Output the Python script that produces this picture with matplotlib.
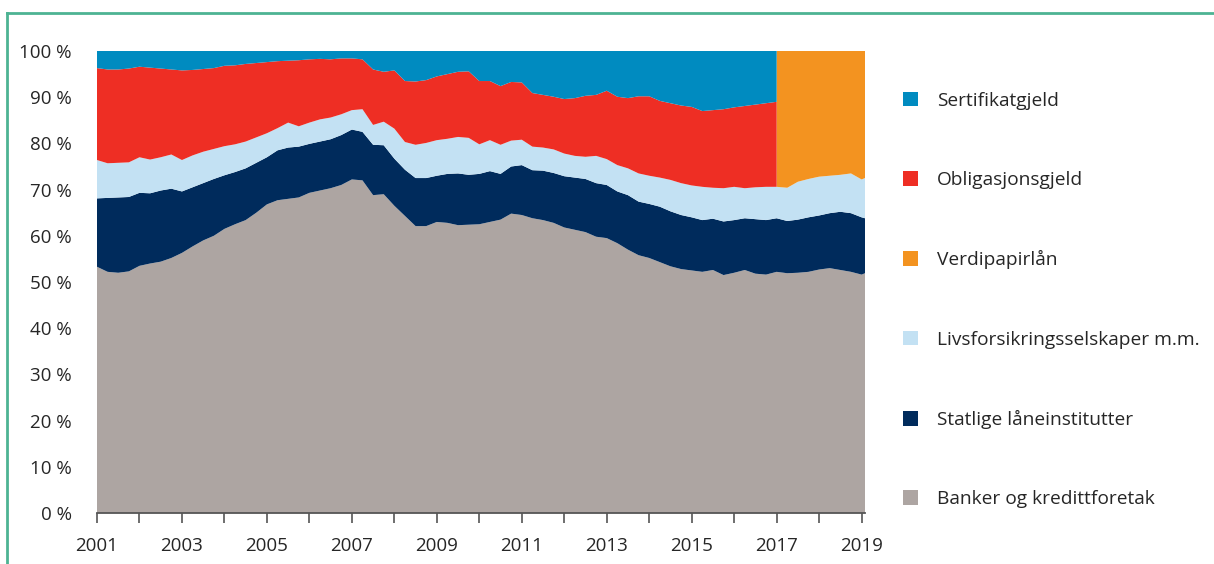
import numpy as np
import matplotlib.pyplot as plt
from matplotlib.patches import Patch
from matplotlib.lines import Line2D

plt.rcParams['font.family'] = ['Open Sans', 'DejaVu Sans']

# quarterly observations; 2017.0 appears twice because the series split there
dates = np.r_[np.arange(2001, 2017.01, 0.25), np.arange(2017, 2019.01, 0.25), 2019.08]

banker = [53.3, 52.2, 52.0, 52.3, 53.5, 54.0, 54.4, 55.2, 56.3, 57.7, 59.0, 60.0,
          61.5, 62.5, 63.4, 65.0, 66.8, 67.7, 68.0, 68.3, 69.3, 69.8, 70.3, 71.0,
          72.2, 72.0, 68.8, 69.0, 66.5, 64.3, 62.1, 62.1, 63.0, 62.8, 62.3, 62.4,
          62.5, 63.0, 63.5, 64.8, 64.5, 63.8, 63.4, 62.8, 61.8, 61.3, 60.8, 59.8,
          59.5, 58.4, 57.0, 55.8, 55.2, 54.3, 53.4, 52.8, 52.5, 52.2, 52.6, 51.5,
          52.0, 52.6, 51.8, 51.6, 52.2,
          52.2, 51.9, 52.0, 52.2, 52.7, 53.0, 52.6, 52.2, 51.6, 51.9]
statlige = [14.8, 16.0, 16.3, 16.1, 15.8, 15.2, 15.4, 15.0, 13.3, 12.8, 12.4, 12.3,
            11.6, 11.3, 11.2, 10.8, 10.2, 10.8, 11.1, 11.0, 10.6, 10.6, 10.6, 10.8,
            10.8, 10.5, 10.9, 10.6, 10.2, 10.0, 10.4, 10.4, 10.0, 10.6, 11.2, 10.8,
            10.9, 11.0, 9.9, 10.2, 10.8, 10.4, 10.7, 10.8, 11.1, 11.3, 11.5, 11.6,
            11.5, 11.2, 11.8, 11.6, 11.7, 12.0, 11.9, 11.7, 11.5, 11.2, 11.1, 11.6,
            11.4, 11.2, 11.8, 11.8, 11.6,
            11.6, 11.3, 11.5, 11.8, 11.7, 11.9, 12.6, 12.7, 12.4, 11.9]
livsforsikring = [8.3, 7.5, 7.5, 7.5, 7.7, 7.3, 7.2, 7.4, 6.8, 6.9, 6.8, 6.5,
                  6.3, 6.0, 5.8, 5.5, 5.2, 4.8, 5.4, 4.4, 4.6, 4.8, 4.7, 4.5,
                  4.2, 4.9, 4.3, 5.1, 6.5, 6.0, 7.2, 7.6, 7.7, 7.6, 7.9, 8.0,
                  6.4, 6.7, 6.3, 5.6, 5.5, 5.1, 5.0, 5.1, 4.9, 4.7, 4.8, 5.9,
                  5.6, 5.7, 5.8, 6.1, 6.1, 6.3, 6.8, 6.9, 6.9, 7.2, 6.7, 7.2,
                  7.2, 6.5, 6.9, 7.2, 6.8,
                  6.8, 7.2, 8.2, 8.3, 8.4, 8.1, 8.0, 8.6, 8.2, 8.7]
verdipapirlan = [0] * 65 + [29.4, 29.6, 28.3, 27.7, 27.2, 27.0, 26.8, 26.5, 27.8, 27.5]
obligasjoner = [19.9, 20.3, 20.2, 20.3, 19.6, 19.9, 19.2, 18.4, 19.4, 18.5, 17.9, 17.5,
                17.4, 17.1, 16.8, 16.1, 15.4, 14.5, 13.4, 14.3, 13.7, 13.1, 12.6, 12.1,
                11.2, 10.8, 12.0, 10.8, 12.6, 13.2, 13.7, 13.6, 13.8, 14.0, 14.1, 14.4,
                13.7, 12.8, 12.7, 12.7, 12.4, 11.6, 11.4, 11.4, 11.8, 12.5, 13.2, 13.2,
                14.8, 14.8, 15.2, 16.7, 17.2, 16.6, 16.6, 16.8, 17.0, 16.4, 16.8, 17.1,
                17.2, 17.8, 17.9, 18.1, 18.4] + [0] * 10
sertifikater = [3.7, 4.0, 4.0, 3.8, 3.4, 3.6, 3.8, 4.0, 4.2, 4.1, 3.9, 3.7,
                3.2, 3.1, 2.8, 2.6, 2.4, 2.2, 2.1, 2.0, 1.8, 1.7, 1.8, 1.6,
                1.6, 1.8, 4.0, 4.5, 4.2, 6.5, 6.6, 6.3, 5.5, 5.0, 4.5, 4.4,
                6.5, 6.5, 7.6, 6.7, 6.8, 9.1, 9.5, 9.9, 10.4, 10.2, 9.7, 9.5,
                8.6, 9.9, 10.2, 9.8, 9.8, 10.8, 11.3, 11.8, 12.1, 13.0, 12.8, 12.6,
                12.2, 11.9, 11.6, 11.3, 11.0] + [0] * 10

labels = ['Banker og kredittforetak', 'Statlige låneinstitutter', 'Livsforsikringsselskaper m.m.',
          'Verdipapirlån', 'Obligasjonsgjeld', 'Sertifikatgjeld']
colors = ['#ada5a2', '#002b5c', '#c3e1f3', '#f39320', '#ee2e24', '#008bc0']

fig = plt.figure(figsize=(12.14, 5.64), dpi=100)
ax = fig.add_axes([97 / 1214, 1 - 513 / 564, 768 / 1214, 462 / 564])

ax.stackplot(dates, banker, statlige, livsforsikring, verdipapirlan, obligasjoner,
             sertifikater, colors=colors, linewidth=0)

ax.set_xlim(2001, 2019.08)
ax.set_ylim(0, 100)
ax.set_xticks(range(2001, 2020, 2))
ax.set_xticks(range(2002, 2019, 2), minor=True)
ax.set_yticks(range(0, 101, 10))
ax.set_yticklabels([f'{v} %' for v in range(0, 101, 10)])

for s in ['top', 'right', 'left']:
    ax.spines[s].set_visible(False)
ax.spines['bottom'].set_color('#555555')
ax.spines['bottom'].set_linewidth(1.3)
ax.spines['bottom'].set_zorder(5)

txt = '#262626'
ax.tick_params(axis='x', which='both', direction='out', length=7, width=1.2,
               color='#555555', labelsize=13.5, labelcolor=txt, pad=10)
ax.tick_params(axis='y', length=0, labelsize=13.5, labelcolor=txt, pad=18)

handles = [Patch(facecolor=c, edgecolor='none') for c in colors][::-1]
fig.legend(handles, labels[::-1], loc='center left', bbox_to_anchor=(903 / 1214, 1 - 300 / 564),
           frameon=False, fontsize=13.8, labelcolor=txt, handlelength=0.78, handleheight=0.78,
           handletextpad=1.0, labelspacing=3.2, borderpad=0, borderaxespad=0)

# green frame around the figure
green = '#4db393'
fig.add_artist(Line2D([7 / 1214, 1], [1 - 13 / 564] * 2, color=green, lw=2))
fig.add_artist(Line2D([7 / 1214] * 2, [0, 1 - 13 / 564], color=green, lw=2))

fig.savefig('out.png', dpi=100)
